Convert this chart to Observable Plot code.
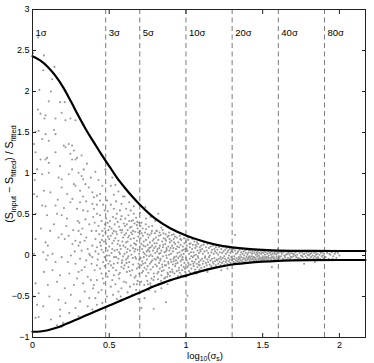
<!DOCTYPE html>
<html><head><meta charset="utf-8">
<script src="https://cdn.jsdelivr.net/npm/d3@7"></script>
<script src="https://cdn.jsdelivr.net/npm/@observablehq/plot@0.6"></script>
<style>body{margin:0;background:#fff}</style>
</head><body><div id="chart"></div>
<script>
// curve envelopes
const curveX = [0,0.05,0.1,0.15,0.2,0.25,0.3,0.35,0.4,0.45,0.5,0.55,0.6,0.65,0.7,0.8,0.9,1.0,1.1,1.2,1.3,1.4,1.5,1.6,1.8,2.0,2.17];
const upperY = [2.43,2.38,2.30,2.19,2.05,1.88,1.70,1.53,1.38,1.23,1.09,0.95,0.83,0.72,0.62,0.45,0.33,0.245,0.18,0.13,0.10,0.08,0.068,0.06,0.056,0.055,0.055];
const lowerY = [-0.93,-0.927,-0.912,-0.885,-0.85,-0.81,-0.77,-0.73,-0.69,-0.65,-0.61,-0.57,-0.53,-0.49,-0.45,-0.37,-0.30,-0.245,-0.19,-0.145,-0.11,-0.09,-0.075,-0.065,-0.057,-0.055,-0.055];
// sigma markers
const sigmaLabels = ["1σ","3σ","5σ","10σ","20σ","40σ","80σ"];
const sigmaX = [0,0.477,0.699,1,1.301,1.602,1.903];
const xTicks = [0,0.5,1,1.5,2];
const yTicks = [-1,-0.5,0,0.5,1,1.5,2,2.5,3];
// scatter points [log10 sigma, residual]
const points = [
[0.004,2.47],[0.037,2.66],[0.074,2.44],[0.07,2.26],[0.045,2.02],[0.035,1.78],[0.052,1.73],[0.085,1.71],[0.078,1.67],[0.02,1.51],[0.04,1.52],[0.085,1.48],[0.01,1.36],[0.063,1.42],[0.02,1.26],[0.052,1.17],[0.085,1.17],[0.095,1.19],[0.03,1.05],[0.063,0.99],[0.074,0.79],[0.01,0.75],[0.03,0.72],[0.063,0.61],[0.085,0.60],[0.02,0.51],[0.095,0.49],[0.02,0.20],[0.085,0.16],[0.01,0.02],[0.07,0.04],[0.074,-0.20],[0.02,-0.34],[0.04,-0.46],[0.01,-0.50],[0.03,-0.60],[0.07,-0.62],[0.02,-0.76],[0.04,-0.75],[0.055,0.33],[0.015,0.92],[0.09,-0.05],
[0.128,2.15],[0.143,2.30],[0.12,2.0],[0.106,1.88],[0.18,1.87],[0.19,1.74],[0.15,1.67],[0.14,1.53],[0.15,1.48],[0.106,1.40],[0.15,1.26],[0.106,1.13],[0.106,1.01],[0.18,1.09],[0.17,0.95],[0.19,0.93],[0.117,0.77],[0.19,0.83],[0.15,0.61],[0.16,0.51],[0.19,0.49],[0.17,0.22],[0.19,0.26],[0.10,0.12],[0.13,0.02],[0.15,-0.08],[0.10,0.0],[0.19,-0.02],[0.13,-0.18],[0.18,-0.24],[0.10,-0.36],[0.16,-0.32],[0.11,-0.50],[0.17,-0.54],[0.18,-0.66],[0.12,-0.78],[0.18,-0.74],[0.16,-0.85],[0.19,-0.87],[0.14,0.38],[0.115,0.30],[0.165,0.68],
[0.21,1.87],[0.215,1.65],[0.247,1.67],[0.28,1.65],[0.204,1.34],[0.215,1.32],[0.236,1.36],[0.258,1.34],[0.27,1.28],[0.247,1.24],[0.258,1.17],[0.28,1.17],[0.29,1.19],[0.236,0.99],[0.258,1.05],[0.27,0.87],[0.28,0.85],[0.226,0.75],[0.247,0.65],[0.26,0.69],[0.225,0.45],[0.29,0.57],[0.21,0.20],[0.235,0.24],[0.26,0.14],[0.28,0.18],[0.25,0.0],[0.28,-0.10],[0.24,-0.22],[0.21,-0.40],[0.27,-0.36],[0.25,-0.48],[0.24,-0.70],[0.28,-0.64],[0.20,-0.82],[0.20,-0.84],[0.22,0.36],[0.295,0.42],[0.205,0.58],[0.265,0.31],[0.23,-0.08],[0.275,0.05],[0.215,-0.58],[0.29,-0.28],
[0.30,1.01],[0.334,1.05],[0.32,0.97],[0.33,0.93],[0.31,0.79],[0.345,0.87],[0.367,0.83],[0.39,0.77],[0.31,0.65],[0.35,0.66],[0.39,0.63],[0.33,0.55],[0.36,0.54],[0.30,0.12],[0.31,0.16],[0.35,0.22],[0.39,0.12],[0.31,-0.04],[0.32,0.06],[0.34,-0.14],[0.39,-0.02],[0.30,-0.20],[0.36,-0.26],[0.33,-0.34],[0.31,-0.56],[0.37,-0.52],[0.30,-0.74],[0.39,-0.66],[0.32,1.22],[0.355,1.12],[0.38,0.95],[0.305,0.40],[0.325,0.33],[0.345,0.44],[0.37,0.38],[0.385,0.30],[0.395,0.47],[0.315,0.26],[0.34,0.18],[0.36,0.08],[0.375,0.0],[0.385,-0.10],[0.35,-0.06],[0.32,-0.18],[0.38,-0.30],[0.34,-0.44],[0.395,-0.40],[0.36,-0.62],[0.33,0.72],[0.37,0.02],[0.30,0.30],
[0.40,0.71],[0.42,0.73],[0.44,0.75],[0.44,0.67],[0.486,0.67],[0.40,0.57],[0.42,0.51],[0.44,0.49],[0.47,0.55],[0.49,0.54],[0.41,0.20],[0.42,0.10],[0.44,0.16],[0.46,0.24],[0.48,0.14],[0.50,0.20],[0.42,-0.12],[0.46,-0.08],[0.48,-0.22],[0.42,-0.30],[0.45,-0.22],[0.49,-0.26],[0.40,-0.36],[0.45,-0.42],[0.42,-0.60],[0.41,1.02],[0.43,0.92],[0.455,0.85],[0.475,1.05],[0.46,0.62],[0.405,0.40],[0.43,0.36],[0.45,0.42],[0.47,0.33],[0.49,0.40],[0.415,0.30],[0.435,0.26],[0.455,0.30],[0.475,0.28],[0.495,0.31],[0.41,0.05],[0.43,0.02],[0.45,0.07],[0.47,-0.02],[0.49,0.06],[0.425,-0.05],[0.445,0.12],[0.465,0.17],[0.485,0.0],[0.405,-0.18],[0.44,-0.16],[0.47,-0.13],[0.495,-0.10],[0.43,-0.45],[0.465,-0.34],[0.485,-0.50],[0.41,-0.52],[0.455,-0.58],[0.48,0.45],[0.42,0.62],
[0.452,0.19],[0.462,0.04],[0.472,0.38],[0.482,-0.06],[0.492,0.23],[0.458,-0.28],[0.478,0.09],[0.498,-0.19],
[0.51,0.85],[0.54,0.86],[0.56,0.78],[0.53,0.74],[0.53,0.57],[0.55,0.51],[0.58,0.63],[0.52,0.08],[0.53,0.18],[0.55,0.26],[0.57,0.12],[0.59,0.22],[0.50,0.0],[0.53,-0.10],[0.56,-0.04],[0.58,-0.14],[0.53,-0.24],[0.51,-0.38],[0.56,-0.44],[0.505,0.42],[0.515,0.33],[0.525,0.47],[0.535,0.38],[0.545,0.29],[0.555,0.41],[0.565,0.35],[0.575,0.44],[0.585,0.31],[0.595,0.39],[0.51,0.24],[0.52,0.15],[0.54,0.21],[0.56,0.18],[0.58,0.28],[0.50,0.11],[0.515,0.03],[0.535,0.06],[0.545,-0.02],[0.565,0.04],[0.575,0.08],[0.59,-0.01],[0.505,-0.07],[0.525,-0.15],[0.545,-0.18],[0.555,-0.09],[0.57,-0.21],[0.585,-0.06],[0.595,-0.16],[0.52,-0.30],[0.54,-0.35],[0.565,-0.28],[0.58,-0.40],[0.595,-0.32],[0.525,-0.48],[0.55,-0.53],[0.575,-0.50],[0.51,0.62],[0.545,0.66],[0.57,0.55],[0.59,0.72],[0.56,0.92],[0.52,0.95],[0.53,0.30],[0.555,0.14],[0.585,0.17],[0.60,0.25],
[0.502,0.35],[0.512,-0.12],[0.522,0.27],[0.532,-0.02],[0.542,0.45],[0.552,0.07],[0.562,-0.23],[0.572,0.31],[0.582,-0.09],[0.592,0.12],[0.57,0.02],[0.58,0.48],
[0.61,0.57],[0.64,0.55],[0.66,0.51],[0.61,0.16],[0.62,0.08],[0.64,0.20],[0.67,0.14],[0.60,0.02],[0.63,-0.08],[0.65,-0.18],[0.67,-0.02],[0.69,-0.10],[0.69,-0.53],[0.605,0.45],[0.615,0.38],[0.625,0.49],[0.635,0.34],[0.645,0.42],[0.655,0.30],[0.665,0.39],[0.675,0.46],[0.685,0.33],[0.695,0.40],[0.61,0.27],[0.62,0.31],[0.63,0.24],[0.64,0.12],[0.65,0.26],[0.66,0.21],[0.67,0.29],[0.68,0.18],[0.69,0.23],[0.70,0.11],[0.605,0.10],[0.615,0.04],[0.625,-0.01],[0.635,0.06],[0.645,0.01],[0.655,0.09],[0.665,0.05],[0.675,-0.04],[0.685,0.07],[0.695,0.02],[0.60,-0.12],[0.615,-0.20],[0.625,-0.14],[0.64,-0.24],[0.655,-0.11],[0.665,-0.27],[0.68,-0.16],[0.695,-0.22],[0.61,-0.33],[0.635,-0.38],[0.66,-0.35],[0.685,-0.31],[0.62,-0.45],[0.65,-0.48],[0.675,-0.42],[0.63,0.65],[0.60,0.72],[0.66,0.60],[0.70,0.52],[0.62,0.17],[0.645,0.35],[0.68,0.37],[0.695,-0.05],[0.61,-0.05],[0.675,0.13],[0.655,0.43],[0.69,0.28],
[0.603,0.36],[0.613,-0.09],[0.623,0.22],[0.633,-0.19],[0.643,0.28],[0.653,-0.03],[0.663,0.15],[0.673,-0.25],[0.683,0.41],[0.693,-0.14],[0.62,-0.03],[0.67,0.08],[0.63,0.42],[0.68,-0.35],
[0.735,0.59],[0.77,0.47],[0.74,0.45],[0.80,0.42],[0.71,0.40],[0.78,0.36],[0.74,0.32],[0.75,0.26],[0.70,0.30],[0.71,-0.64],[0.73,-0.52],[0.79,-0.65],[0.76,-0.42],[0.77,-0.37],[0.80,-0.44],[0.705,0.21],[0.71,0.14],[0.715,0.08],[0.72,0.24],[0.725,0.17],[0.73,0.02],[0.735,0.11],[0.74,0.19],[0.745,0.05],[0.75,0.13],[0.755,0.22],[0.76,0.09],[0.765,0.16],[0.77,0.01],[0.775,0.27],[0.78,0.12],[0.785,0.06],[0.79,0.20],[0.795,0.15],[0.80,0.03],[0.705,-0.03],[0.71,-0.12],[0.715,-0.07],[0.72,-0.19],[0.725,-0.02],[0.73,-0.15],[0.735,-0.09],[0.74,-0.25],[0.745,-0.05],[0.75,-0.13],[0.755,-0.21],[0.76,-0.01],[0.765,-0.10],[0.77,-0.17],[0.775,-0.28],[0.78,-0.06],[0.785,-0.14],[0.79,-0.22],[0.795,-0.04],[0.80,-0.11],[0.708,-0.32],[0.728,-0.36],[0.748,-0.31],[0.768,-0.34],[0.788,-0.30],[0.718,0.33],[0.738,0.38],[0.758,0.35],[0.778,0.30],[0.798,0.27],[0.722,0.04],[0.742,0.00],[0.762,0.05],[0.782,-0.01],[0.712,0.27],[0.752,-0.35],[0.792,0.09],
[0.703,0.36],[0.713,-0.21],[0.723,0.12],[0.733,0.28],[0.743,-0.17],[0.753,0.07],[0.763,0.25],[0.773,-0.08],[0.783,0.18],[0.793,-0.26],[0.72,-0.10],[0.77,0.10],
[0.82,0.51],[0.84,0.34],[0.81,0.30],[0.89,0.28],[0.87,-0.57],[0.84,-0.40],[0.82,-0.35],[0.88,-0.35],[0.805,0.22],[0.81,0.15],[0.815,0.08],[0.82,0.19],[0.825,0.02],[0.83,0.12],[0.835,0.25],[0.84,0.06],[0.845,0.17],[0.85,0.10],[0.855,0.21],[0.86,0.04],[0.865,0.14],[0.87,0.18],[0.875,0.07],[0.88,0.23],[0.885,0.11],[0.89,0.01],[0.895,0.16],[0.90,0.09],[0.805,-0.05],[0.81,-0.13],[0.815,-0.02],[0.82,-0.20],[0.825,-0.09],[0.83,-0.16],[0.835,-0.04],[0.84,-0.24],[0.845,-0.11],[0.85,-0.01],[0.855,-0.18],[0.86,-0.07],[0.865,-0.27],[0.87,-0.12],[0.875,-0.03],[0.88,-0.21],[0.885,-0.08],[0.89,-0.15],[0.895,-0.25],[0.90,-0.05],[0.808,0.30],[0.828,0.28],[0.848,0.31],[0.868,0.26],[0.888,0.24],[0.818,-0.29],[0.838,-0.31],[0.858,-0.28],[0.878,-0.26],[0.898,-0.20],[0.812,0.05],[0.832,-0.06],[0.852,0.13],[0.872,0.0],[0.892,0.06],[0.826,0.09],[0.846,-0.14],[0.866,0.20],[0.886,-0.10],
[0.803,0.11],[0.813,-0.22],[0.823,0.24],[0.833,0.03],[0.843,-0.19],[0.853,0.27],[0.863,-0.12],[0.873,0.09],[0.883,-0.23],[0.893,0.20],[0.82,-0.03],[0.87,0.05],
[0.92,0.26],[0.96,0.24],[0.905,0.18],[0.91,0.12],[0.915,0.05],[0.92,0.20],[0.925,-0.02],[0.93,0.14],[0.935,0.08],[0.94,0.22],[0.945,0.03],[0.95,0.16],[0.955,0.10],[0.96,-0.01],[0.965,0.13],[0.97,0.19],[0.975,0.06],[0.98,0.11],[0.985,0.02],[0.99,0.15],[0.995,0.08],[1.0,0.17],[0.905,-0.08],[0.91,-0.17],[0.915,-0.11],[0.92,-0.04],[0.925,-0.22],[0.93,-0.13],[0.935,-0.06],[0.94,-0.19],[0.945,-0.09],[0.95,-0.03],[0.955,-0.15],[0.96,-0.21],[0.965,-0.07],[0.97,-0.12],[0.975,-0.18],[0.98,-0.05],[0.985,-0.14],[0.99,-0.09],[0.995,-0.20],[1.0,-0.03],[0.918,0.09],[0.938,-0.01],[0.958,0.04],[0.978,-0.02],[0.998,0.05],[0.908,0.25],[0.948,-0.25],[0.988,0.21],[0.928,0.23],[0.968,-0.24],
[0.903,0.02],[0.913,-0.20],[0.923,0.16],[0.933,-0.10],[0.943,0.11],[0.953,-0.18],[0.963,0.20],[0.973,-0.05],[0.983,0.07],[0.993,-0.16],[0.92,-0.07],[0.97,0.01],
[1.01,-0.49],[1.0,-0.26],[1.07,-0.22],[1.005,0.12],[1.01,0.06],[1.015,0.19],[1.02,0.02],[1.025,0.10],[1.03,0.15],[1.035,-0.01],[1.04,0.08],[1.045,0.13],[1.05,0.04],[1.055,0.17],[1.06,0.09],[1.065,0.01],[1.07,0.11],[1.075,0.06],[1.08,0.14],[1.085,0.03],[1.09,0.10],[1.095,0.05],[1.10,0.12],[1.005,-0.06],[1.01,-0.14],[1.015,-0.09],[1.02,-0.19],[1.025,-0.04],[1.03,-0.11],[1.035,-0.16],[1.04,-0.07],[1.045,-0.02],[1.05,-0.13],[1.055,-0.08],[1.06,-0.17],[1.065,-0.05],[1.07,-0.10],[1.075,-0.14],[1.08,-0.03],[1.085,-0.08],[1.09,-0.12],[1.095,-0.06],[1.10,-0.15],[1.012,0.22],[1.042,0.20],[1.072,0.16],[1.028,-0.21],[1.058,-0.20],[1.088,-0.17],
[1.003,0.08],[1.018,-0.12],[1.033,0.04],[1.048,-0.10],[1.063,0.13],[1.078,-0.01],[1.093,0.07],[1.053,0.00],[1.083,-0.11],[1.023,0.14],
[1.14,-0.20],[1.105,0.08],[1.11,0.02],[1.115,0.13],[1.12,0.05],[1.125,-0.01],[1.13,0.10],[1.135,0.06],[1.14,0.14],[1.145,0.03],[1.15,0.09],[1.155,0.0],[1.16,0.11],[1.165,0.04],[1.17,0.07],[1.175,0.12],[1.18,0.02],[1.185,0.08],[1.19,0.05],[1.195,0.10],[1.20,0.03],[1.105,-0.04],[1.11,-0.10],[1.115,-0.07],[1.12,-0.14],[1.125,-0.03],[1.13,-0.09],[1.135,-0.12],[1.14,-0.05],[1.145,-0.08],[1.15,-0.02],[1.155,-0.11],[1.16,-0.06],[1.165,-0.13],[1.17,-0.04],[1.175,-0.08],[1.18,-0.10],[1.185,-0.03],[1.19,-0.07],[1.195,-0.12],[1.20,-0.05],[1.118,0.16],[1.158,0.15],[1.138,-0.17],[1.178,-0.15],
[1.23,-0.18],[1.27,-0.16],[1.205,0.07],[1.21,0.01],[1.215,0.10],[1.22,0.04],[1.225,-0.02],[1.23,0.08],[1.235,0.03],[1.24,0.11],[1.245,0.05],[1.25,-0.01],[1.255,0.07],[1.26,0.02],[1.265,0.09],[1.27,0.04],[1.275,0.06],[1.28,0.0],[1.285,0.08],[1.29,0.03],[1.295,0.05],[1.30,0.07],[1.205,-0.06],[1.21,-0.10],[1.215,-0.04],[1.22,-0.08],[1.225,-0.12],[1.23,-0.05],[1.235,-0.09],[1.24,-0.03],[1.245,-0.07],[1.25,-0.11],[1.255,-0.04],[1.26,-0.08],[1.265,-0.06],[1.27,-0.10],[1.275,-0.03],[1.28,-0.07],[1.285,-0.05],[1.29,-0.09],[1.295,-0.02],[1.30,-0.06],
[1.32,0.25],[1.305,0.04],[1.31,0.08],[1.315,-0.01],[1.32,0.06],[1.325,0.02],[1.33,0.09],[1.335,0.03],[1.34,0.05],[1.345,-0.02],[1.35,0.07],[1.355,0.01],[1.36,0.04],[1.365,0.08],[1.37,0.02],[1.375,0.05],[1.38,0.0],[1.385,0.06],[1.39,0.03],[1.395,0.07],[1.40,0.01],[1.305,-0.05],[1.31,-0.08],[1.315,-0.04],[1.32,-0.09],[1.325,-0.06],[1.33,-0.03],[1.335,-0.07],[1.34,-0.05],[1.345,-0.08],[1.35,-0.04],[1.355,-0.06],[1.36,-0.02],[1.365,-0.07],[1.37,-0.05],[1.375,-0.03],[1.38,-0.08],[1.385,-0.04],[1.39,-0.06],[1.395,-0.02],[1.40,-0.05],
[1.56,-0.14],[1.60,0.085],[1.405,0.03],[1.41,0.06],[1.415,-0.01],[1.42,0.04],[1.425,0.07],[1.43,0.02],[1.435,0.05],[1.44,-0.02],[1.445,0.03],[1.45,0.06],[1.455,0.01],[1.46,0.04],[1.465,0.02],[1.47,0.05],[1.475,0.0],[1.48,0.03],[1.485,0.06],[1.49,0.02],[1.495,0.04],[1.50,-0.01],[1.405,-0.04],[1.41,-0.02],[1.415,-0.06],[1.42,-0.03],[1.425,-0.05],[1.43,-0.01],[1.435,-0.04],[1.44,-0.06],[1.445,-0.02],[1.45,-0.05],[1.455,-0.03],[1.46,-0.06],[1.465,-0.01],[1.47,-0.04],[1.475,-0.05],[1.48,-0.02],[1.485,-0.04],[1.49,-0.06],[1.495,-0.03],[1.50,-0.05],[1.505,0.03],[1.51,0.05],[1.515,0.01],[1.52,0.04],[1.525,-0.02],[1.53,0.02],[1.535,0.05],[1.54,0.0],[1.545,0.03],[1.55,0.04],[1.555,0.01],[1.56,0.05],[1.565,0.02],[1.57,-0.01],[1.575,0.04],[1.58,0.02],[1.585,0.05],[1.59,0.01],[1.595,0.03],[1.505,-0.03],[1.51,-0.05],[1.515,-0.02],[1.52,-0.04],[1.53,-0.05],[1.535,-0.02],[1.54,-0.04],[1.55,-0.03],[1.555,-0.05],[1.56,-0.02],[1.57,-0.04],[1.575,-0.03],[1.58,-0.05],[1.59,-0.02],[1.595,-0.04],
[1.605,0.03],[1.61,-0.03],[1.615,0.05],[1.62,-0.01],[1.625,0.02],[1.63,-0.04],[1.635,0.04],[1.64,0.0],[1.645,-0.02],[1.65,0.05],[1.655,-0.05],[1.66,0.02],[1.665,-0.03],[1.67,0.04],[1.675,0.01],[1.68,-0.04],[1.685,0.03],[1.69,-0.02],[1.695,0.05],[1.70,-0.01],[1.705,0.02],[1.71,-0.05],[1.715,0.04],[1.72,-0.02],[1.725,0.01],[1.73,0.05],[1.735,-0.03],[1.74,0.03],[1.745,-0.04],[1.75,0.0],[1.755,0.04],[1.76,-0.02],[1.765,0.02],[1.77,-0.05],[1.775,0.05],[1.77,-0.10],[1.78,-0.01],[1.785,0.03],[1.79,-0.03],[1.795,0.01],[1.80,0.04],[1.805,-0.04],[1.81,0.02],[1.815,-0.02],[1.82,0.05],[1.825,0.0],[1.83,-0.05],[1.835,0.03],[1.84,-0.08],[1.84,-0.01],[1.845,0.04],[1.85,-0.03],[1.855,0.02],[1.86,-0.02],[1.865,0.05],[1.87,0.01],[1.875,-0.04],[1.88,0.03],[1.885,-0.01],[1.89,0.04],[1.895,-0.03],[1.90,0.02],[1.91,-0.02],[1.92,0.03],[1.93,-0.04],[1.94,0.01],[1.95,0.04],[1.96,-0.01],[1.97,0.02],[1.98,-0.03],[1.99,0.03],[2.0,0.0],
[1.608,-0.01],[1.622,0.04],[1.638,-0.05],[1.652,0.01],[1.668,0.03],[1.682,-0.02],[1.698,0.02],[1.712,0.00],[1.728,-0.04],[1.742,0.05],[1.758,-0.01],[1.772,0.02],[1.788,-0.05],[1.802,0.00],[1.818,0.03],[1.832,-0.03],[1.848,0.01],[1.862,-0.04],[1.878,0.04],[1.892,0.00],[1.915,0.05],[1.935,0.02],[1.955,-0.04],[1.975,0.04]
];

const upper = curveX.map((x, i) => ({x, y: upperY[i]}));
const lower = curveX.map((x, i) => ({x, y: lowerY[i]}));
const sigmas = sigmaX.map((x, i) => ({x, label: sigmaLabels[i]}));
const fmt = d => d3.format("")(d).replace("-", "\u2212");

const chart = Plot.plot({
  width: 374, height: 363,
  marginLeft: 32, marginRight: 9, marginTop: 9, marginBottom: 26,
  style: {fontFamily: "'Liberation Sans', Arial, sans-serif", fontSize: "9px", background: "#fff", color: "#000"},
  x: {domain: [0, 2.17]},
  y: {domain: [-1, 3]},
  marks: [
    Plot.dot(points, {x: d => d[0], y: d => d[1], r: 1.05, fill: "#999", stroke: null}),
    Plot.ruleX(sigmas.filter(d => d.x > 0), {x: "x", stroke: "#7a7a7a", strokeWidth: 1, strokeDasharray: "5,3.5"}),
    Plot.text(sigmas, {x: "x", text: "label", frameAnchor: "top", dy: 20, dx: 3, textAnchor: "start", fontSize: 9.5}),
    Plot.line(upper, {x: "x", y: "y", stroke: "#000", strokeWidth: 2.2, curve: "monotone-x"}),
    Plot.line(lower, {x: "x", y: "y", stroke: "#000", strokeWidth: 2.2, curve: "monotone-x"}),
    Plot.axisX(xTicks, {anchor: "bottom", tickSize: 0, tickPadding: 4, tickFormat: fmt, label: null}),
    Plot.axisX(xTicks, {anchor: "bottom", tickSize: -4, tickFormat: () => "", label: null, stroke: "#222"}),
    Plot.axisX(xTicks, {anchor: "top", tickSize: -4, tickFormat: () => "", label: null, stroke: "#222"}),
    Plot.axisY(yTicks, {anchor: "left", tickSize: 0, tickPadding: 3, tickFormat: fmt, label: null}),
    Plot.axisY(yTicks, {anchor: "left", tickSize: -4, tickFormat: () => "", label: null, stroke: "#222"}),
    Plot.axisY(yTicks, {anchor: "right", tickSize: -4, tickFormat: () => "", label: null, stroke: "#222"}),
    Plot.frame({stroke: "#222", strokeWidth: 1})
  ]
});

const svg = d3.select(chart);
// y axis label with subscripts
const yl = svg.append("text")
  .attr("transform", "translate(13,174) rotate(-90)")
  .attr("text-anchor", "middle")
  .attr("font-size", 10.5)
  .attr("fill", "#000");
yl.append("tspan").text("(S");
yl.append("tspan").attr("dy", 2.5).attr("font-size", 7.5).text("input");
yl.append("tspan").attr("dy", -2.5).text(" \u2212 S");
yl.append("tspan").attr("dy", 2.5).attr("font-size", 7.5).text("fitted");
yl.append("tspan").attr("dy", -2.5).text(") / S");
yl.append("tspan").attr("dy", 2.5).attr("font-size", 7.5).text("fitted");
// x axis label
const xl = svg.append("text")
  .attr("x", 205).attr("y", 358.5)
  .attr("text-anchor", "middle")
  .attr("font-size", 9.5)
  .attr("fill", "#000");
xl.append("tspan").text("log");
xl.append("tspan").attr("dy", 2.2).attr("font-size", 6.8).text("10");
xl.append("tspan").attr("dy", -2.2).text("(\u03c3");
xl.append("tspan").attr("dy", 2.2).attr("font-size", 6.8).text("s");
xl.append("tspan").attr("dy", -2.2).text(")");

document.getElementById("chart").append(chart);
</script>
</body></html>
